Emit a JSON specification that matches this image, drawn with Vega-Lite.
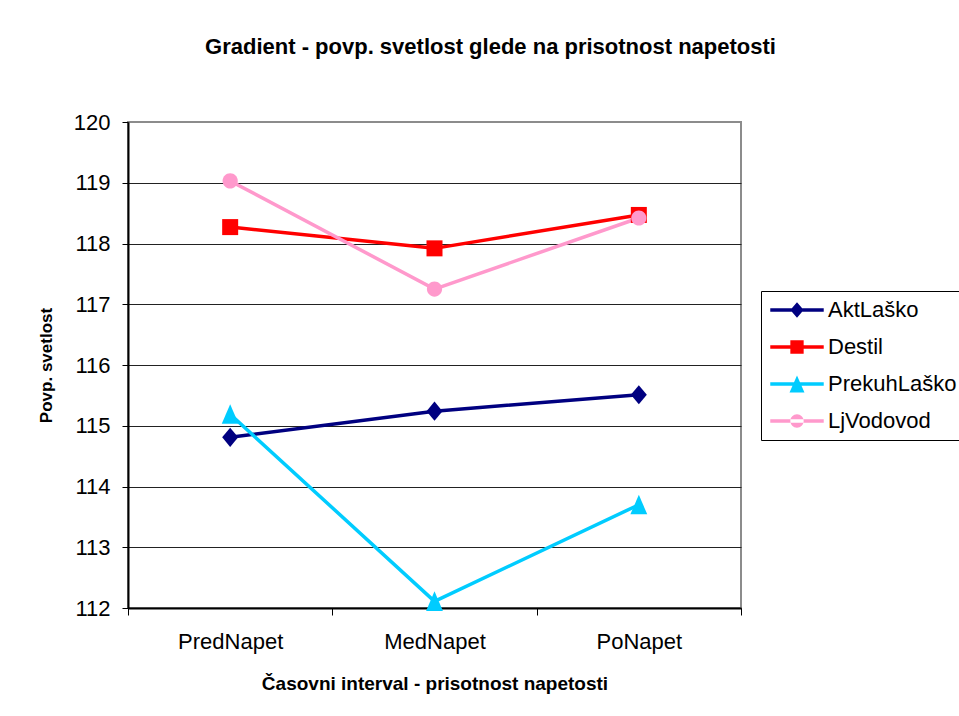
{
  "$schema": "https://vega.github.io/schema/vega-lite/v6.json",
  "autosize": "none",
  "padding": {"left": 128, "top": 122, "right": 218, "bottom": 108},
  "width": 613,
  "height": 486,
  "background": "white",
  "title": {
    "text": "Gradient - povp. svetlost glede na prisotnost napetosti",
    "anchor": "middle",
    "frame": "group",
    "dx": 56,
    "offset": 35,
    "baseline": "alphabetic",
    "font": "Liberation Sans",
    "fontSize": 22,
    "fontWeight": "bold",
    "color": "black"
  },
  "config": {
    "view": {"stroke": "#8c8c8c", "strokeWidth": 2},
    "font": "Liberation Sans"
  },
  "data": {
    "values": [
      {"interval": "PredNapet", "serija": "AktLaško", "vrednost": 114.81},
      {"interval": "MedNapet", "serija": "AktLaško", "vrednost": 115.24},
      {"interval": "PoNapet", "serija": "AktLaško", "vrednost": 115.51},
      {"interval": "PredNapet", "serija": "Destil", "vrednost": 118.27},
      {"interval": "MedNapet", "serija": "Destil", "vrednost": 117.92},
      {"interval": "PoNapet", "serija": "Destil", "vrednost": 118.47},
      {"interval": "PredNapet", "serija": "PrekuhLaško", "vrednost": 115.19},
      {"interval": "MedNapet", "serija": "PrekuhLaško", "vrednost": 112.11},
      {"interval": "PoNapet", "serija": "PrekuhLaško", "vrednost": 113.7},
      {"interval": "PredNapet", "serija": "LjVodovod", "vrednost": 119.03},
      {"interval": "MedNapet", "serija": "LjVodovod", "vrednost": 117.25},
      {"interval": "PoNapet", "serija": "LjVodovod", "vrednost": 118.42}
    ]
  },
  "encoding": {
    "x": {
      "field": "interval",
      "type": "nominal",
      "sort": ["PredNapet", "MedNapet", "PoNapet"],
      "scale": {"type": "band", "paddingInner": 0, "paddingOuter": 0},
      "axis": {
        "title": "Časovni interval - prisotnost napetosti",
        "titleFont": "Liberation Sans",
        "titleFontSize": 19,
        "titleFontWeight": "bold",
        "titleColor": "black",
        "titlePadding": 22,
        "labelAngle": 0,
        "labelFont": "Liberation Sans",
        "labelFontSize": 22,
        "labelColor": "black",
        "labelPadding": 16,
        "tickBand": "extent",
        "tickSize": 7,
        "tickColor": "black",
        "domainColor": "black",
        "domainWidth": 2,
        "grid": false
      }
    },
    "y": {
      "field": "vrednost",
      "type": "quantitative",
      "scale": {"domain": [112, 120], "nice": false, "zero": false},
      "axis": {
        "title": "Povp. svetlost",
        "titleFont": "Liberation Sans",
        "titleFontSize": 17,
        "titleFontWeight": "bold",
        "titleColor": "black",
        "titlePadding": 18,
        "values": [112, 113, 114, 115, 116, 117, 118, 119, 120],
        "format": "d",
        "labelFont": "Liberation Sans",
        "labelFontSize": 22,
        "labelColor": "black",
        "labelPadding": 12,
        "tickSize": 6,
        "tickColor": "black",
        "domainColor": "black",
        "domainWidth": 2,
        "grid": true,
        "gridColor": {"condition": {"test": "datum.value === 120", "value": "#8c8c8c"}, "value": "#222222"},
        "gridWidth": 1
      }
    }
  },
  "layer": [
    {
      "mark": {"type": "line", "strokeWidth": 3.5},
      "encoding": {
        "color": {
          "field": "serija",
          "type": "nominal",
          "scale": {
            "domain": ["AktLaško", "Destil", "PrekuhLaško", "LjVodovod"],
            "range": ["#000080", "#ff0000", "#00ccff", "#ff99cc"]
          },
          "legend": null
        }
      }
    },
    {
      "mark": {"type": "point", "filled": true, "opacity": 1, "size": 256, "strokeWidth": 0},
      "encoding": {
        "color": {
          "field": "serija",
          "type": "nominal",
          "scale": {
            "domain": ["AktLaško", "Destil", "PrekuhLaško", "LjVodovod"],
            "range": ["#000080", "#ff0000", "#00ccff", "#ff99cc"]
          },
          "legend": null
        },
        "shape": {
          "field": "serija",
          "type": "nominal",
          "scale": {
            "domain": ["AktLaško", "Destil", "PrekuhLaško", "LjVodovod"],
            "range": [
              "M0,-1.2L1,0L0,1.2L-1,0Z",
              "M-1,-1H1V1H-1Z",
              "M0,-1.25L1.05,1.2H-1.05Z",
              "M-0.95,0A0.95,0.95,0,1,0,0.95,0A0.95,0.95,0,1,0,-0.95,0Z"
            ]
          },
          "legend": null
        }
      }
    },
    {
      "transform": [{"filter": "false"}],
      "mark": {"type": "point", "filled": true, "opacity": 1, "strokeWidth": 0},
      "encoding": {
        "color": {
          "field": "serija",
          "type": "nominal",
          "scale": {
            "domain": ["AktLaško", "Destil", "PrekuhLaško", "LjVodovod"],
            "range": ["#000080", "#ff0000", "#00ccff", "#ff99cc"]
          },
          "legend": {
            "title": null,
            "orient": "none",
            "legendX": 633,
            "legendY": 169,
            "strokeColor": "black",
            "fillColor": "white",
            "padding": 8,
            "symbolSize": 324,
            "symbolOffset": 17,
            "symbolStrokeWidth": 0,
            "symbolOpacity": 1,
            "labelOffset": 20,
            "labelFont": "Liberation Sans",
            "labelFontSize": 22,
            "labelColor": "black",
            "labelLimit": 300,
            "rowPadding": 15
          }
        },
        "shape": {
          "field": "serija",
          "type": "nominal",
          "scale": {
            "domain": ["AktLaško", "Destil", "PrekuhLaško", "LjVodovod"],
            "range": [
              "M-2.97,-0.19H2.97V0.19H-2.97Z M0,-0.85L0.74,0L0,0.85L-0.74,0Z",
              "M-2.97,-0.19H2.97V0.19H-2.97Z M-0.74,-0.74H0.74V0.74H-0.74Z",
              "M-2.97,-0.19H2.97V0.19H-2.97Z M0,-0.95L0.83,0.95H-0.83Z",
              "M-2.97,-0.19H2.97V0.19H-2.97Z M-0.74,0A0.74,0.74,0,1,0,0.74,0A0.74,0.74,0,1,0,-0.74,0Z"
            ]
          },
          "legend": {
            "title": null,
            "orient": "none",
            "legendX": 633,
            "legendY": 169,
            "strokeColor": "black",
            "fillColor": "white",
            "padding": 8,
            "symbolSize": 324,
            "symbolOffset": 17,
            "symbolStrokeWidth": 0,
            "symbolOpacity": 1,
            "labelOffset": 20,
            "labelFont": "Liberation Sans",
            "labelFontSize": 22,
            "labelColor": "black",
            "labelLimit": 300,
            "rowPadding": 15
          }
        }
      }
    }
  ],
  "resolve": {
    "scale": {"color": "independent", "shape": "independent"},
    "legend": {"color": "independent", "shape": "independent"}
  }
}
